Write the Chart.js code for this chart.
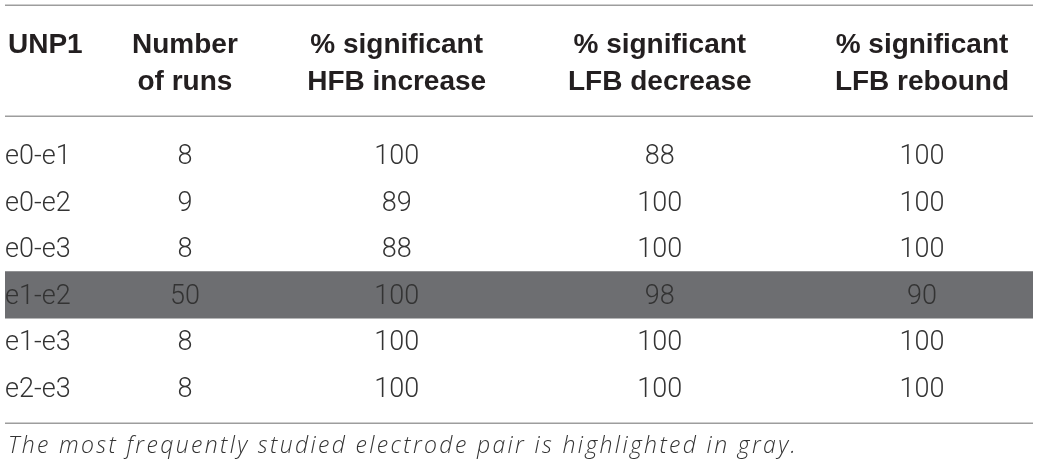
<!DOCTYPE html>
<html>
<head>
<meta charset="utf-8">
<script src="https://cdn.jsdelivr.net/npm/chart.js@4"></script>
<style>
  html, body { margin: 0; padding: 0; background: #fff; }
  #wrap { width: 1039px; height: 472px; position: relative; }
</style>
</head>
<body>
<div id="wrap"><canvas id="tableChart"></canvas></div>
<script>
// Data
const headers = [
  ['UNP1'],
  ['Number', 'of runs'],
  ['% significant', 'HFB increase'],
  ['% significant', 'LFB decrease'],
  ['% significant', 'LFB rebound'],
];
const pairs = ['e0-e1', 'e0-e2', 'e0-e3', 'e1-e2', 'e1-e3', 'e2-e3'];
const runs = [8, 9, 8, 50, 8, 8];
const hfbIncrease = [100, 89, 88, 100, 100, 100];
const lfbDecrease = [88, 100, 100, 98, 100, 100];
const lfbRebound = [100, 100, 100, 90, 100, 100];
const highlighted = 'e1-e2';
const footnote = 'The most frequently studied electrode pair is highlighted in gray.';

// Layout (x scale units 0..100 across the table width)
const colAnchor = [0, 17.5, 38.1, 63.7, 89.2];
const headFont = "bold 28px 'Liberation Sans', Arial, sans-serif";
const bodyFont = "300 27px Roboto, 'Liberation Sans', sans-serif";
const noteFont = "italic 300 23px 'Open Sans', Roboto, sans-serif";
const noteWidth = 790;
const ruleColor = '#9d9d9d';

const columns = [pairs, runs, hfbIncrease, lfbDecrease, lfbRebound];

// draws rules, headers, cells and footnote from the scales
const tablePlugin = {
  id: 'tableText',
  afterDatasetsDraw(chart) {
    const ctx = chart.ctx;
    const x = chart.scales.x;
    const y = chart.scales.y;
    const area = chart.chartArea;

    ctx.save();
    // horizontal rules
    ctx.strokeStyle = ruleColor;
    ctx.lineWidth = 1.5;
    [area.top - 126.5, area.top - 15.5, area.bottom + 12].forEach(function (ly) {
      ctx.beginPath();
      ctx.moveTo(area.left, ly);
      ctx.lineTo(area.right, ly);
      ctx.stroke();
    });

    // headers
    ctx.font = headFont;
    ctx.fillStyle = '#231f20';
    ctx.textBaseline = 'alphabetic';
    for (let c = 0; c < headers.length; c++) {
      ctx.textAlign = c === 0 ? 'left' : 'center';
      const hx = x.getPixelForValue(colAnchor[c]) + (c === 0 ? 3 : 0);
      for (let l = 0; l < headers[c].length; l++) {
        ctx.fillText(headers[c][l], hx, area.top - 79 + l * 37);
      }
    }

    // body cells
    ctx.font = bodyFont;
    ctx.fillStyle = '#333333';
    for (let r = 0; r < pairs.length; r++) {
      const cy = y.getPixelForValue(r) + 9;
      for (let c = 0; c < columns.length; c++) {
        ctx.textAlign = c === 0 ? 'left' : 'center';
        ctx.fillText(String(columns[c][r]), x.getPixelForValue(colAnchor[c]), cy);
      }
    }

    // footnote, spaced out to the original line length
    ctx.font = noteFont;
    ctx.fillStyle = '#333333';
    ctx.textAlign = 'left';
    const plain = ctx.measureText(footnote).width;
    ctx.letterSpacing = Math.max(0, (noteWidth - plain) / footnote.length) + 'px';
    ctx.fillText(footnote, area.left + 3, area.bottom + 42);
    ctx.restore();
  },
};

const config = {
  type: 'bar',
  data: {
    labels: pairs,
    datasets: [
      {
        data: pairs.map(function (p) { return p === highlighted ? [0, 100] : null; }),
        backgroundColor: '#6d6e71',
        borderWidth: 0,
        barPercentage: 1,
        categoryPercentage: 1,
      },
    ],
  },
  options: {
    indexAxis: 'y',
    responsive: true,
    maintainAspectRatio: false,
    animation: false,
    layout: { padding: { top: 131.7, bottom: 60.7, left: 5, right: 6 } },
    plugins: { legend: { display: false }, tooltip: { enabled: false } },
    scales: {
      x: { type: 'linear', min: 0, max: 100, display: false },
      y: { type: 'category', display: false },
    },
  },
  plugins: [tablePlugin],
};

const tableChart = new Chart(document.getElementById('tableChart'), config);
</script>
</body>
</html>
